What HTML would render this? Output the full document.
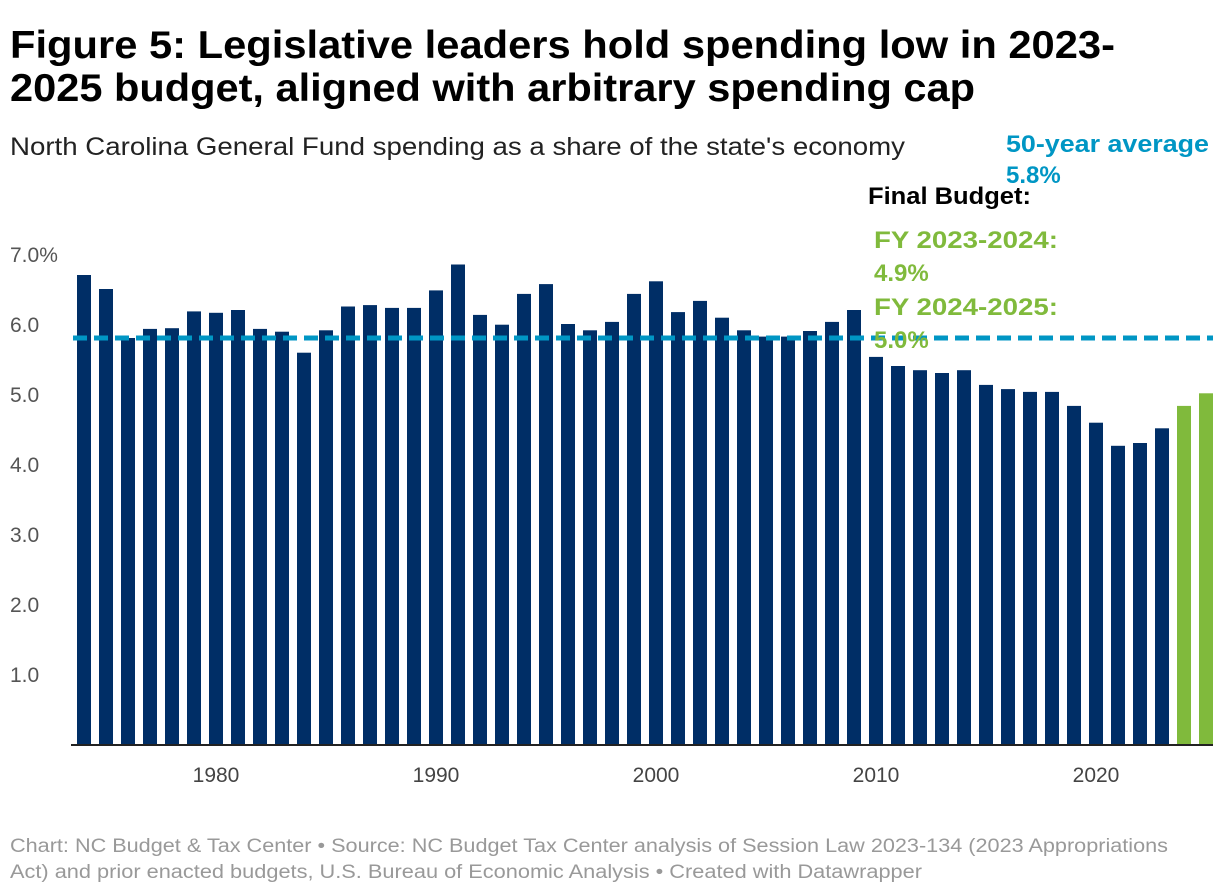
<!DOCTYPE html>
<html><head><meta charset="utf-8"><style>
body{margin:0;width:1220px;height:894px;background:#fff;font-family:"Liberation Sans",sans-serif;overflow:hidden}
svg{position:absolute;left:0;top:0}
</style></head><body>
<svg width="1220" height="894">
<text x="10" y="58" font-size="39" font-weight="bold" fill="#000" textLength="1105" lengthAdjust="spacingAndGlyphs">Figure 5: Legislative leaders hold spending low in 2023-</text>
<text x="10" y="101" font-size="39" font-weight="bold" fill="#000" textLength="965" lengthAdjust="spacingAndGlyphs">2025 budget, aligned with arbitrary spending cap</text>
<text x="10" y="155" font-size="25" fill="#222" textLength="895" lengthAdjust="spacingAndGlyphs">North Carolina General Fund spending as a share of the state's economy</text>
<g id="yaxis"></g><g id="bars"></g><g id="xaxis"></g>
<line id="avg" x1="73" x2="1213" stroke="#0096c4" stroke-width="5" stroke-dasharray="14,7"/>
<text x="1006" y="152" font-size="24" font-weight="bold" fill="#0096c4" textLength="203" lengthAdjust="spacingAndGlyphs">50-year average</text>
<text x="1006" y="183" font-size="24" font-weight="bold" fill="#0096c4">5.8%</text>
<text x="868" y="204" font-size="24" font-weight="bold" fill="#000" textLength="163" lengthAdjust="spacingAndGlyphs">Final Budget:</text>
<text x="874" y="248" font-size="24" font-weight="bold" fill="#80ba3c" textLength="184" lengthAdjust="spacingAndGlyphs">FY 2023-2024:</text>
<text x="874" y="281" font-size="24" font-weight="bold" fill="#80ba3c">4.9%</text>
<text x="874" y="315" font-size="24" font-weight="bold" fill="#80ba3c" textLength="184" lengthAdjust="spacingAndGlyphs">FY 2024-2025:</text>
<text x="874" y="348" font-size="24" font-weight="bold" fill="#80ba3c">5.0%</text>
<text x="10" y="852" font-size="19" fill="#999" textLength="1158" lengthAdjust="spacingAndGlyphs">Chart: NC Budget &amp; Tax Center • Source: NC Budget Tax Center analysis of Session Law 2023-134 (2023 Appropriations</text>
<text x="10" y="878" font-size="19" fill="#999" textLength="912" lengthAdjust="spacingAndGlyphs">Act) and prior enacted budgets, U.S. Bureau of Economic Analysis • Created with Datawrapper</text>
</svg>
<script>
const years=[1974,1975,1976,1977,1978,1979,1980,1981,1982,1983,1984,1985,1986,1987,1988,1989,1990,1991,1992,1993,1994,1995,1996,1997,1998,1999,2000,2001,2002,2003,2004,2005,2006,2007,2008,2009,2010,2011,2012,2013,2014,2015,2016,2017,2018,2019,2020,2021,2022,2023,2024,2025];
const values=[6.7,6.5,5.8,5.93,5.94,6.18,6.16,6.2,5.93,5.89,5.59,5.91,6.25,6.27,6.23,6.23,6.48,6.85,6.13,5.99,6.43,6.57,6.0,5.91,6.03,6.43,6.61,6.17,6.33,6.09,5.91,5.82,5.82,5.9,6.03,6.2,5.53,5.4,5.34,5.3,5.34,5.13,5.07,5.03,5.03,4.83,4.59,4.26,4.3,4.51,4.83,5.01];
const budgetYears=[2024,2025];
const yTicks=[1,2,3,4,5,6,7];
const yTickLabels=["1.0","2.0","3.0","4.0","5.0","6.0","7.0%"];
const xTicks=[1980,1990,2000,2010,2020];
const average=[5.8];
const NS="http://www.w3.org/2000/svg";
const y=v=>744-v*70;
const x=yr=>77+(yr-1974)*22;
function mk(t,a,p){const e=document.createElementNS(NS,t);for(const k in a)e.setAttribute(k,a[k]);document.getElementById(p).appendChild(e);return e;}
yTicks.forEach((t,i)=>{const e=mk('text',{x:10,y:y(t)+8,'font-size':21,fill:'#555'},'yaxis');e.textContent=yTickLabels[i];

});
years.forEach((yr,i)=>{const g=budgetYears.includes(yr);const r=mk('rect',{x:x(yr),y:y(values[i]),width:14,height:744-y(values[i]),fill:g?'#80ba3c':'#002e66'},'bars');

});
const ax=mk('line',{x1:71,x2:1213,y1:745,y2:745,stroke:'#222','stroke-width':2},'xaxis');


xTicks.forEach(t=>{const e=mk('text',{x:x(t)+7,y:782,'font-size':21,fill:'#444','text-anchor':'middle'},'xaxis');e.textContent=t;

});
const av=document.getElementById('avg');av.setAttribute('y1',y(average[0]));av.setAttribute('y2',y(average[0]));
</script>
</body></html>
